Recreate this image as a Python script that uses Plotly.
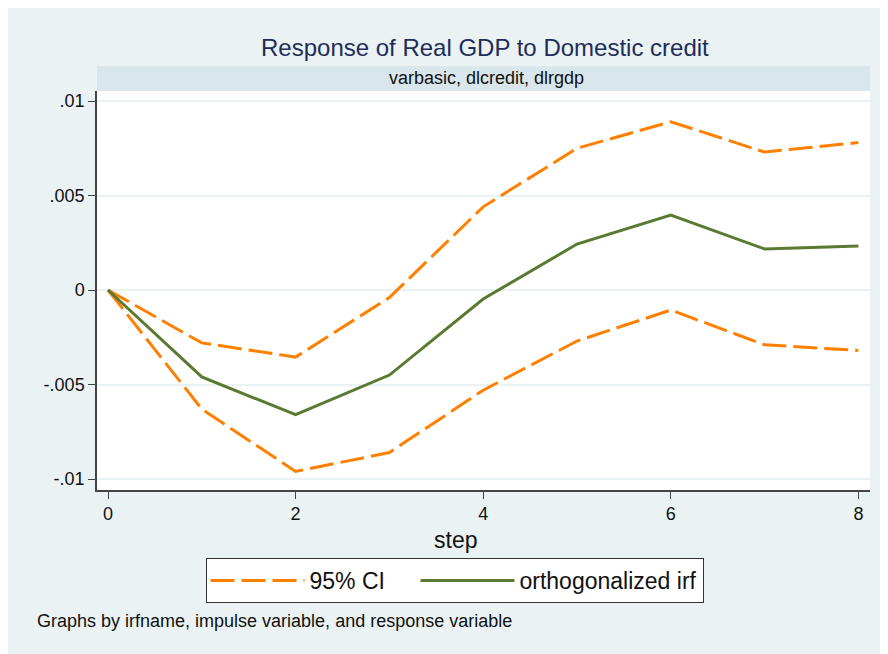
import plotly.graph_objects as go

steps = [0, 1, 2, 3, 4, 5, 6, 7, 8]
irf = [0, -0.0046, -0.0066, -0.0045, -0.00048, 0.00243, 0.00397, 0.00217, 0.00233]
ci_upper = [0, -0.0028, -0.00355, -0.0004, 0.0044, 0.0075, 0.0089, 0.0073, 0.0078]
ci_lower = [0, -0.0063, -0.0096, -0.0086, -0.0053, -0.0027, -0.00106, -0.0029, -0.0032]

y_ticks = [-0.01, -0.005, 0, 0.005, 0.01]
y_tick_labels = ["-.01", "-.005", "0", ".005", ".01"]
x_ticks = [0, 2, 4, 6, 8]

title_text = "Response of Real GDP to Domestic credit"
strip_text = "varbasic, dlcredit, dlrgdp"
note_text = "Graphs by irfname, impulse variable, and response variable"

ORANGE = "#FF8000"
GREEN = "#5A7A32"
BG = "#EAF2F3"
STRIP = "#D9E6EB"
FONT = "Liberation Sans, Arial, sans-serif"

W, H = 888, 654
# plot area in figure pixel coordinates (page is offset by 8px body margin)
L, R, T, B = 89, 862, 83, 482
pw, ph = R - L, B - T


def px(x):
    return (x - L) / pw


def py(y):
    return (B - y) / ph


fig = go.Figure()
fig.add_trace(go.Scatter(x=steps, y=ci_upper, mode="lines", name="95% CI\u00a0\u00a0\u00a0\u00a0",
                         line=dict(color=ORANGE, width=3, dash="24px,7px"),
                         legendgroup="ci", showlegend=True))
fig.add_trace(go.Scatter(x=steps, y=ci_lower, mode="lines", name="95% CI",
                         line=dict(color=ORANGE, width=3, dash="24px,7px"),
                         legendgroup="ci", showlegend=False))
fig.add_trace(go.Scatter(x=steps, y=irf, mode="lines", name="orthogonalized irf",
                         line=dict(color=GREEN, width=3)))

shapes = [
    # strip header
    dict(type="rect", xref="paper", yref="paper", x0=0, x1=1, y0=1, y1=py(58),
         fillcolor=STRIP, line=dict(width=0), layer="above"),
    # zero reference line
    dict(type="line", xref="paper", yref="y", x0=0, x1=1, y0=0, y1=0,
         line=dict(color="#FF0000", width=1.5), layer="below"),
]

annotations = [
    dict(text=title_text, x=px(477), y=py(40), xref="paper", yref="paper",
         showarrow=False, xanchor="center", yanchor="middle",
         font=dict(size=24, color="#1E2D59", family=FONT)),
    dict(text=strip_text, x=px(479), y=py(70), xref="paper", yref="paper",
         showarrow=False, xanchor="center", yanchor="middle",
         font=dict(size=18, color="#111111", family=FONT)),
    dict(text="step", x=px(447), y=py(532), xref="paper", yref="paper",
         showarrow=False, xanchor="center", yanchor="middle",
         font=dict(size=23, color="#111111", family=FONT)),
    dict(text=note_text, x=px(27), y=py(613), xref="paper", yref="paper",
         showarrow=False, xanchor="left", yanchor="middle",
         font=dict(size=18, color="#111111", family=FONT)),
]

fig.update_layout(
    width=W, height=H,
    margin=dict(l=L, r=W - R, t=T, b=H - B, pad=0),
    paper_bgcolor=BG, plot_bgcolor="white",
    font=dict(family=FONT, size=18, color="#111111"),
    shapes=shapes, annotations=annotations,
    showlegend=True,
    legend=dict(orientation="h", x=px(446.5), y=py(550), xanchor="center", yanchor="top",
                bgcolor="white", bordercolor="#333333", borderwidth=1,
                font=dict(size=23, family=FONT, color="#111111"),
                itemwidth=94, tracegroupgap=0),
    xaxis=dict(range=[(L - 100) / 93.8, (R - 100) / 93.8], tickvals=x_ticks,
               ticks="outside", ticklen=7, tickcolor="#444444", showgrid=False,
               zeroline=False, showline=True, linecolor="#444444", linewidth=1.5,
               tickfont=dict(size=18)),
    yaxis=dict(range=[(282 - B) / 18900, (282 - T) / 18900], tickvals=y_ticks,
               ticktext=y_tick_labels, ticks="outside", ticklen=7, tickcolor="#444444",
               showgrid=True, gridcolor=BG, gridwidth=1.5, zeroline=False,
               showline=True, linecolor="#444444", linewidth=1.5,
               tickfont=dict(size=18)),
)

fig.write_html("out.html")
